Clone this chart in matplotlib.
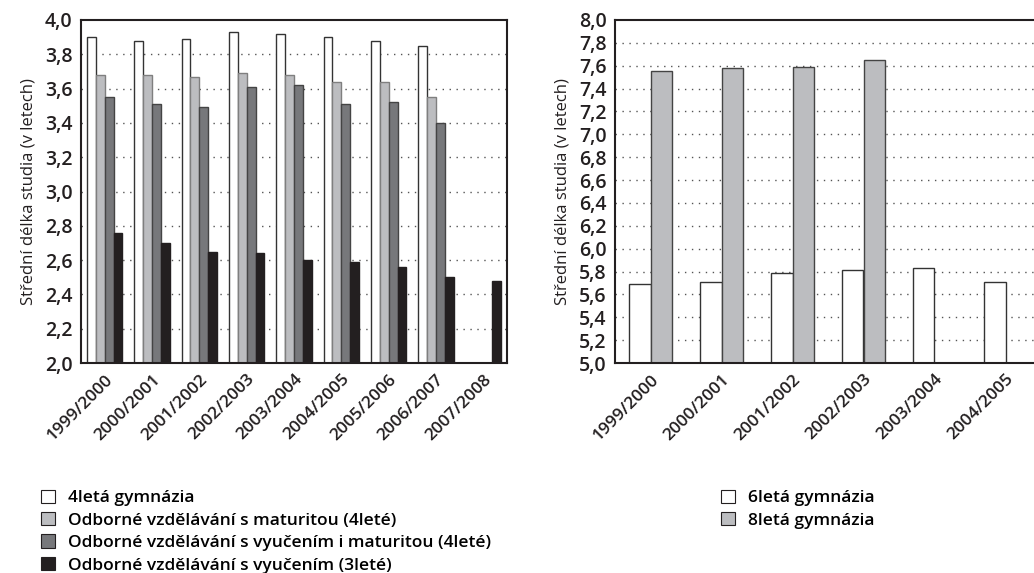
import matplotlib
matplotlib.use("Agg")
import matplotlib.pyplot as plt
import numpy as np
from matplotlib.patches import Patch

plt.rcParams['font.family'] = ['Open Sans', 'DejaVu Sans']

# left chart data
years_left = ["1999/2000", "2000/2001", "2001/2002", "2002/2003", "2003/2004",
              "2004/2005", "2005/2006", "2006/2007", "2007/2008"]
gym4 = [3.90, 3.88, 3.89, 3.93, 3.92, 3.90, 3.88, 3.85, np.nan]
odb_mat = [3.68, 3.68, 3.67, 3.69, 3.68, 3.64, 3.64, 3.55, np.nan]
odb_vyuc_mat = [3.55, 3.51, 3.49, 3.61, 3.62, 3.51, 3.52, 3.40, np.nan]
odb_vyuc = [2.76, 2.70, 2.65, 2.64, 2.60, 2.59, 2.56, 2.50, 2.48]
labels_left = ["4letá gymnázia",
               "Odborné vzdělávání s maturitou (4leté)",
               "Odborné vzdělávání s vyučením i maturitou (4leté)",
               "Odborné vzdělávání s vyučením (3leté)"]

# right chart data
years_right = ["1999/2000", "2000/2001", "2001/2002", "2002/2003", "2003/2004", "2004/2005"]
gym6 = [5.69, 5.71, 5.79, 5.81, 5.83, 5.71]
gym8 = [7.55, 7.58, 7.59, 7.65, np.nan, np.nan]
labels_right = ["6letá gymnázia", "8letá gymnázia"]

colors_left = ["white", "#bcbdc0", "#77787b", "#231f20"]
edges_left = ["#333333", "#7f7f7f", "#444444", "#231f20"]
colors_right = ["white", "#bcbdc0"]
edges_right = ["#333333", "#444444"]

fig = plt.figure(figsize=(10.34, 5.73), dpi=100)
ax1 = fig.add_axes([81/1034, 1 - 363/573, 426/1034, 343/573])
ax2 = fig.add_axes([615/1034, 1 - 363/573, 568/1034, 343/573])

ylab = "Střední délka studia (v letech)"
grid_style = dict(color="#555555", linestyle=(0, (1, 4)), linewidth=1)


def style_axis(ax, ticks):
    ax.set_yticks(ticks)
    ax.set_yticklabels([("%.1f" % t).replace(".", ",") for t in ticks], fontsize=14,
                       fontweight="semibold", color="#231f20")
    ax.tick_params(length=0, pad=6)
    for t in ticks[1:-1]:
        ax.axhline(t, zorder=0, **grid_style)
    for s in ax.spines.values():
        s.set_linewidth(1.5)
        s.set_color("#231f20")
    ax.set_ylabel(ylab, fontsize=12, labelpad=6, color="#231f20")


# left
series = [gym4, odb_mat, odb_vyuc_mat, odb_vyuc]
x = np.arange(len(years_left))
w = 0.1875
for i, s in enumerate(series):
    ax1.bar(x + (i - 1.5) * w, s, w, color=colors_left[i], edgecolor=edges_left[i],
            linewidth=1, zorder=2)
ax1.set_xlim(-0.5, len(years_left) - 0.5)
ax1.set_ylim(2.0, 4.0)
style_axis(ax1, np.round(np.arange(2.0, 4.01, 0.2), 1))
ax1.set_xticks(x)
ax1.set_xticklabels(years_left, rotation=45, ha="right", rotation_mode="anchor",
                    fontsize=12.5, fontweight="semibold", color="#231f20")

# right
series_r = [gym6, gym8]
xr = np.arange(len(years_right))
wr = 0.296
for i, s in enumerate(series_r):
    ax2.bar(xr + (i - 0.5) * wr, s, wr, color=colors_right[i], edgecolor=edges_right[i],
            linewidth=1, zorder=2)
ax2.set_xlim(-0.5, 7.5)
ax2.set_ylim(5.0, 8.0)
style_axis(ax2, np.round(np.arange(5.0, 8.01, 0.2), 1))
ax2.spines["right"].set_visible(False)
ax2.set_xticks(xr)
ax2.set_xticklabels(years_right, rotation=45, ha="right", rotation_mode="anchor",
                    fontsize=12.5, fontweight="semibold", color="#231f20")

# legends
leg_font = dict(size=12.5, weight="semibold")
h1 = [Patch(facecolor=colors_left[i], edgecolor="#231f20", linewidth=0.8) for i in range(4)]
fig.legend(h1, labels_left, loc="upper left", bbox_to_anchor=(32/1034, 1 - 481/573),
           frameon=False, prop=leg_font, handlelength=0.8, handleheight=0.8,
           handletextpad=0.8, labelspacing=0.33, borderpad=0)
h2 = [Patch(facecolor=colors_right[i], edgecolor="#231f20", linewidth=0.8) for i in range(2)]
fig.legend(h2, labels_right, loc="upper left", bbox_to_anchor=(712/1034, 1 - 481/573),
           frameon=False, prop=leg_font, handlelength=0.8, handleheight=0.8,
           handletextpad=0.8, labelspacing=0.33, borderpad=0)

fig.savefig("out.png", dpi=100)
